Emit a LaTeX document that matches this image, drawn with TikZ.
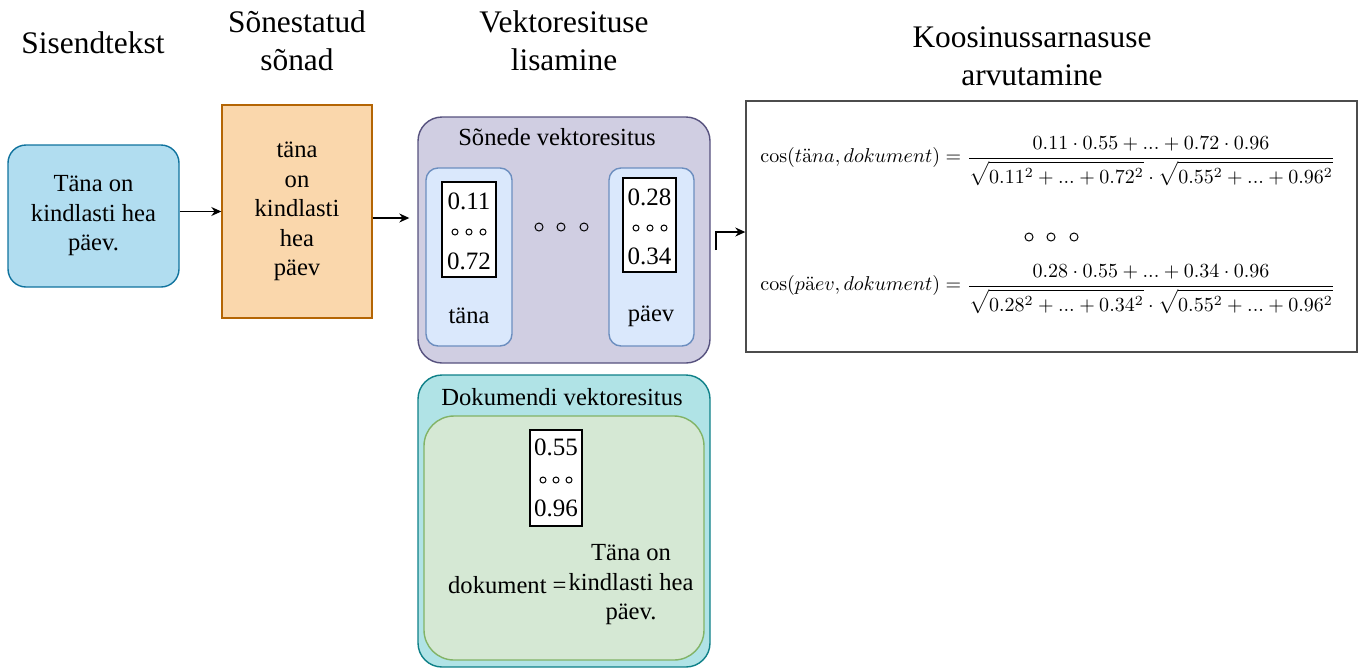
\documentclass[tikz,border=0pt]{standalone}
\usepackage[no-math]{fontspec}
\setmainfont{Liberation Serif}
\usetikzlibrary{arrows.meta}
\definecolor{bluef}{HTML}{B1DDF0}\definecolor{blues}{HTML}{10739E}
\definecolor{orf}{HTML}{FAD7AC}\definecolor{ors}{HTML}{B46504}
\definecolor{purf}{HTML}{D0CEE2}\definecolor{purs}{HTML}{56517E}
\definecolor{inf}{HTML}{DAE8FC}\definecolor{ins}{HTML}{6C8EBF}
\definecolor{teaf}{HTML}{B0E3E6}\definecolor{teas}{HTML}{0E8088}
\definecolor{grf}{HTML}{D5E8D4}\definecolor{grs}{HTML}{82B366}
\newcommand{\mydots}{\mathrm{...}}
\newcommand{\myroot}[1]{\sqrt{\rule{0pt}{9.6pt}#1}}
\tikzset{
  box/.style={draw, line width=0.7pt, inner sep=0pt},
  heading/.style={font=\fontsize{15.7}{19}\selectfont, align=center},
  btext/.style={font=\fontsize{12.3}{14.75}\selectfont, align=center},
  num/.style={font=\fontsize{12.5}{15}\selectfont, inner sep=0pt},
  vecbox/.style={box, fill=white, line width=0.6pt},
  dot/.style={line width=0.5pt},
  arr/.style={-{Stealth[length=5pt,width=4.5pt]}, line width=0.6pt},
  formula/.style={anchor=west, inner sep=0pt, font=\fontsize{10.2}{12}\selectfont},
}
\begin{document}
\begin{tikzpicture}[x=0.5pt,y=-0.5pt]
\useasboundingbox (0,0) rectangle (1363,670);
% headings
\node[heading] (h1) at (93,43) {Sisendtekst};
\node[heading] (h2) at (297,41) {Sõnestatud\\sõnad};
\node[heading] (h3) at (564,41) {Vektoresituse\\lisamine};
\node[heading] (h4) at (1032,56) {Koosinussarnasuse\\arvutamine};
% input
\node[box, fill=bluef, draw=blues, rounded corners=9pt, minimum width=85.5pt, minimum height=71pt] (inp) at (93.5,216) {};
\node[btext] (inpt) at (93.5,216) {Täna on\\kindlasti hea\\päev.};
% tokens
\node[box, fill=orf, draw=ors, minimum width=75pt, minimum height=106.5pt] (tok) at (297,211.5) {};
\node[btext] (tokt) at (297,211.5) {täna\\on\\kindlasti\\hea\\päev};
% word vectors
\node[box, fill=purf, draw=purs, rounded corners=12pt, minimum width=146pt, minimum height=123pt] (wv) at (564,240) {};
\node[btext] (wvt) at (557,137) {Sõnede vektoresitus};
\node[box, fill=inf, draw=ins, rounded corners=6pt, minimum width=43pt, minimum height=89pt] (in1) at (469,257) {};
\node[box, fill=inf, draw=ins, rounded corners=6pt, minimum width=42.5pt, minimum height=89pt] (in2) at (651.5,257) {};
\node[vecbox, minimum width=27pt, minimum height=47.5pt] (v1) at (469,229.5) {};
\node[vecbox, minimum width=26.5pt, minimum height=47pt] (v2) at (649.5,225) {};
\node[num] (v1a) at (469,201) {0.11};
\node[num] (v1b) at (469,261) {0.72};
\node[num] (v2a) at (649.5,197) {0.28};
\node[num] (v2b) at (649.5,256) {0.34};
\foreach \x in {455,469,483} \draw[dot] (\x,232) circle (3);
\foreach \x in {636,650,664} \draw[dot] (\x,228) circle (3);
\foreach \x in {539,561,584} \draw[dot] (\x,227) circle (4);
\node[btext] (l1) at (469,316) {täna};
\node[btext] (l2) at (651,316) {päev};
% document vector
\node[box, fill=teaf, draw=teas, rounded corners=12pt, minimum width=146pt, minimum height=146pt] (dv) at (564,521) {};
\node[btext] (dvt) at (562,397) {Dokumendi vektoresitus};
\node[box, fill=grf, draw=grs, rounded corners=15pt, minimum width=140pt, minimum height=122pt] (gr) at (564,538) {};
\node[vecbox, minimum width=26pt, minimum height=48pt] (v3) at (556,478) {};
\node[num] (v3a) at (556,447) {0.55};
\node[num] (v3b) at (556,508) {0.96};
\foreach \x in {543,556,569} \draw[dot] (\x,480) circle (3);
\node[btext, anchor=east, inner sep=0pt] (dk) at (567,585) {dokument =};
\node[btext] (dkt) at (631,585) {Täna on\\kindlasti hea\\päev.};
% formula box
\node[box, fill=white, draw=black!70, minimum width=305.5pt, minimum height=125.5pt] (fb) at (1051.5,226.5) {};
\node[formula] (f1) at (760,161)
  {$\displaystyle \cos(t\mathrm{\ddot a}na, dokument) = \frac{0.11\cdot0.55+\mydots+0.72\cdot0.96}{\myroot{0.11^2+\mydots+0.72^2}\cdot\myroot{0.55^2+\mydots+0.96^2}}$};
\node[formula] (f2) at (760,289)
  {$\displaystyle \cos(p\mathrm{\ddot a}ev, dokument) = \frac{0.28\cdot0.55+\mydots+0.34\cdot0.96}{\myroot{0.28^2+\mydots+0.34^2}\cdot\myroot{0.55^2+\mydots+0.96^2}}$};
\foreach \x in {1029,1051,1074} \draw[dot] (\x,237) circle (4);
% connectors
\draw[arr] (tok.west -| inp.east) -- (tok.west);
\draw[arr] ([yshift=-3.25pt]tok.east) -- ([xshift=-4pt,yshift=11pt]wv.west);
\coordinate (c1) at (716,250);
\draw[arr] (c1) |- ([yshift=-2.75pt]fb.west);
\end{tikzpicture}
\end{document}
